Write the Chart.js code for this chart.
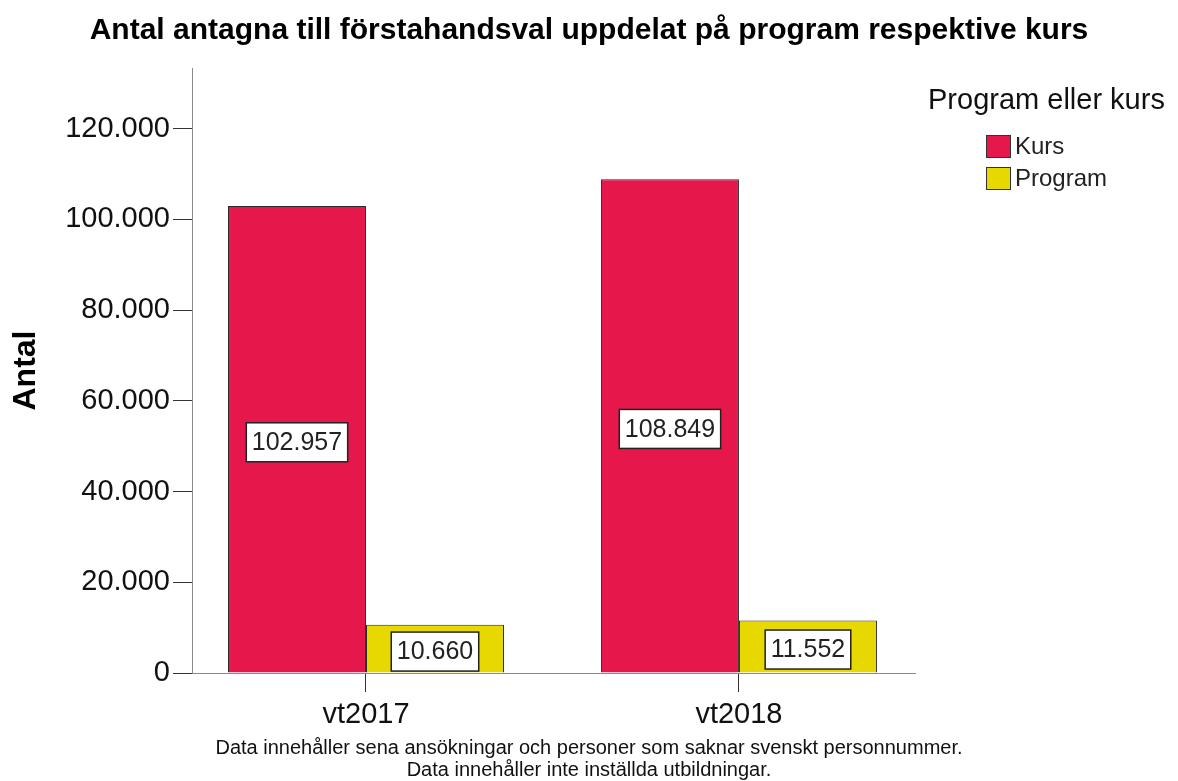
<!DOCTYPE html>
<html>
<head>
<meta charset="utf-8">
<script src="https://cdn.jsdelivr.net/npm/chart.js@4.4.1/dist/chart.umd.min.js"></script>
<style>
  html, body { margin: 0; padding: 0; background: #ffffff; }
  #wrap { position: relative; width: 1178px; height: 781px; }
  #legend { position: absolute; left: 0; top: 0; width: 1178px; height: 781px; pointer-events: none;
            font-family: 'Liberation Sans', Arial, sans-serif; }
  #legend .ltitle { position: absolute; left: 928px; top: 85px; font-size: 29px; line-height: 29px; color: #111; white-space: nowrap; }
  #legend .item { position: absolute; left: 986px; height: 24px; font-size: 24px; line-height: 24px; color: #222; white-space: nowrap; }
  #legend .sw { display: inline-block; width: 23px; height: 21px; border: 1px solid #333; vertical-align: top; margin-top: 1px; margin-right: 4px; }
</style>
</head>
<body>
<div id="wrap">
  <canvas id="c" width="1178" height="781"></canvas>
  <div id="legend"></div>
</div>
<script>
const categories = ['vt2017', 'vt2018'];
const seriesNames = ['Kurs', 'Program'];
const kursValues = [102957, 108849];
const programValues = [10660, 11552];
const seriesColors = ['#E6174B', '#E6D800'];
const yTickValues = [0, 20000, 40000, 60000, 80000, 100000, 120000];
const chartTitle = 'Antal antagna till förstahandsval uppdelat på program respektive kurs';
const yAxisTitle = 'Antal';
const legendTitle = 'Program eller kurs';
const footnote = ['Data innehåller sena ansökningar och personer som saknar svenskt personnummer.',
                  'Data innehåller inte inställda utbildningar.'];

const FONT = "'Liberation Sans', Arial, sans-serif";
const fmt = v => String(v).replace(/\B(?=(\d{3})+(?!\d))/g, '.');

const seriesValues = [kursValues, programValues];
const datasets = seriesNames.map((name, s) => ({
  label: name,
  data: categories.map((c, i) => ({ x: i, y: seriesValues[s][i] })),
  backgroundColor: seriesColors[s],
  borderColor: '#2a2a2a',
  borderWidth: 1,
  borderSkipped: 'bottom',
  categoryPercentage: 0.74,
  barPercentage: 1.0
}));

const valueLabels = {
  id: 'valueLabels',
  afterDatasetsDraw(chart) {
    const ctx = chart.ctx;
    ctx.save();
    ctx.font = '25px ' + FONT;
    ctx.textAlign = 'center';
    ctx.textBaseline = 'middle';
    chart.data.datasets.forEach((ds, di) => {
      const meta = chart.getDatasetMeta(di);
      meta.data.forEach((el, i) => {
        const p = el.getProps(['x', 'y', 'base'], true);
        const cy = (p.y + p.base) / 2 + 3;
        const txt = fmt(ds.data[i].y);
        const w = ctx.measureText(txt).width + 11;
        const h = 39;
        ctx.fillStyle = '#ffffff';
        ctx.fillRect(p.x - w / 2, cy - h / 2, w, h);
        ctx.strokeStyle = '#222222';
        ctx.lineWidth = 1.5;
        ctx.strokeRect(p.x - w / 2, cy - h / 2, w, h);
        ctx.fillStyle = '#222222';
        ctx.fillText(txt, p.x, cy + 1);
      });
    });
    ctx.restore();
  }
};

Chart.defaults.font.family = FONT;

new Chart(document.getElementById('c'), {
  type: 'bar',
  data: { datasets },
  plugins: [valueLabels],
  options: {
    responsive: false,
    animation: false,
    devicePixelRatio: 1,
    layout: { padding: 0 },
    plugins: {
      legend: { display: false },
      tooltip: { enabled: false },
      title: {
        display: true, text: chartTitle, color: '#000000',
        font: { size: 30, weight: 'bold', family: FONT },
        padding: { top: 13, bottom: 19 }
      },
      subtitle: {
        display: true, position: 'bottom', text: footnote, color: '#111111',
        font: { size: 20, family: FONT, lineHeight: 1.1 },
        padding: { top: 2, bottom: 0 }
      }
    },
    scales: {
      x: {
        type: 'linear',
        offset: false,
        min: -0.4665, max: 1.472,
        afterBuildTicks: s => { s.ticks = categories.map((c, i) => ({ value: i })); },
        afterFit: s => { s.height = 62; },
        ticks: {
          callback: v => categories[v] ?? '',
          color: '#111111', font: { size: 29, family: FONT }, padding: 6,
          maxRotation: 0, autoSkip: false
        },
        grid: { offset: false, drawOnChartArea: false, drawTicks: true, tickLength: 19, color: '#333333', lineWidth: 1 },
        border: { display: true, color: '#8a8a8a', width: 1 }
      },
      y: {
        type: 'linear',
        min: 0, max: 133400,
        afterBuildTicks: s => { s.ticks = yTickValues.map(v => ({ value: v })); },
        afterFit: s => { s.width = 192; },
        ticks: {
          callback: v => fmt(v),
          color: '#111111', font: { size: 29, family: FONT }, padding: 3
        },
        grid: { drawOnChartArea: false, drawTicks: true, tickLength: 19, color: '#333333', lineWidth: 1 },
        border: { display: true, color: '#8a8a8a', width: 1 },
        title: {
          display: true, text: yAxisTitle, color: '#000000',
          font: { size: 32, weight: 'bold', family: FONT },
          padding: { top: 7, bottom: 0 }
        }
      },
      legendSpace: {
        type: 'linear', position: 'right', display: true,
        afterFit: s => { s.width = 263; },
        ticks: { display: false },
        grid: { display: false },
        border: { display: false }
      }
    }
  }
});

// Legend (generated from the series arrays)
const lg = document.getElementById('legend');
const t = document.createElement('div');
t.className = 'ltitle';
t.textContent = legendTitle;
lg.appendChild(t);
seriesNames.forEach((name, i) => {
  const it = document.createElement('div');
  it.className = 'item';
  it.style.top = (134 + i * 32) + 'px';
  const sw = document.createElement('span');
  sw.className = 'sw';
  sw.style.background = seriesColors[i];
  it.appendChild(sw);
  it.appendChild(document.createTextNode(name));
  lg.appendChild(it);
});
</script>
</body>
</html>
